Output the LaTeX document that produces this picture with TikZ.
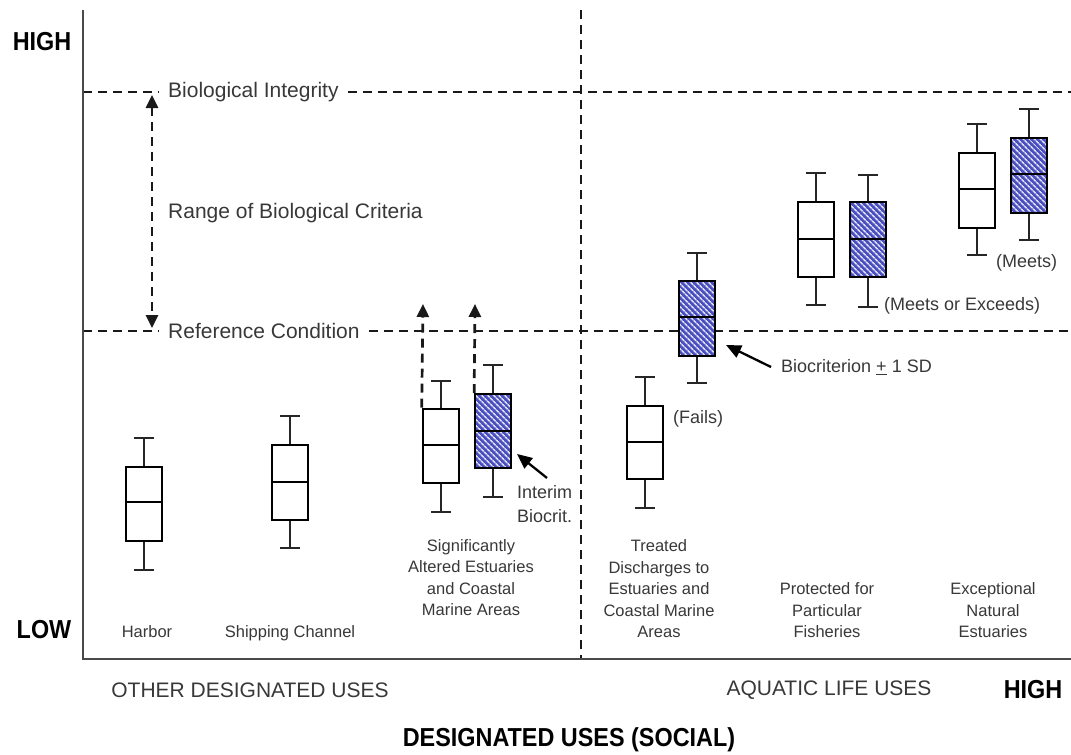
\documentclass[tikz,border=0pt]{standalone}
\usepackage{fontspec}
\setmainfont{Liberation Sans}
\newfontfamily\headfont{Liberation Sans Bold}[FakeStretch=0.9]
\definecolor{criteriablue}{HTML}{4A4FC0}
\definecolor{labelgray}{HTML}{383838}
\definecolor{axisgray}{HTML}{4A4A4A}
\usetikzlibrary{arrows.meta,patterns.meta}
\tikzset{
    boxline/.style={
        draw=black,
        line width=2.6pt
    },
    whisker/.style={
        draw=black!85,
        line width=2.6pt
    },
    observedbox/.style={
        boxline,
        fill=white,
        minimum width=36pt,
        inner sep=0pt
    },
    criterionbox/.style={
        boxline,
        preaction={fill=criteriablue},
        pattern={Lines[angle=-45,distance=4pt,line width=1.7pt]},
        pattern color=white!80!criteriablue,
        minimum width=36pt,
        inner sep=0pt
    },
    guideline/.style={
        draw=black!90,
        line width=2.7pt,
        dash pattern=on 9pt off 6pt
    },
    guidearrow/.style={
        guideline,
        -{Triangle[length=13pt,width=12pt]}
    },
    guidedouble/.style={
        guideline,
        {Triangle[length=13pt,width=12pt]}-{Triangle[length=13pt,width=12pt]}
    },
    pointer/.style={
        -{Triangle[length=15pt,width=13pt]},
        draw=black,
        line width=2.3pt
    },
    axisline/.style={
        draw=axisgray,
        line width=2.8pt
    },
    levellabel/.style={
        font=\fontsize{21}{25}\selectfont,
        text=labelgray,
        inner xsep=9pt,
        inner ysep=2pt
    },
    notelabel/.style={
        font=\fontsize{18}{24}\selectfont,
        text=labelgray,
        anchor=west,
        inner sep=1pt,
        align=left
    },
    uselabel/.style={
        font=\fontsize{16.5}{21.5}\selectfont,
        text=labelgray,
        anchor=south,
        inner sep=0pt,
        text depth=0pt,
        align=center
    },
    grouplabel/.style={
        font=\fontsize{21}{25}\selectfont,
        text=labelgray,
        inner sep=0pt
    },
    headlabel/.style={
        font=\headfont\fontsize{26}{30}\selectfont,
        text=black,
        inner sep=0pt
    }
}
% #1 name, #2 style, #3 x, #4 whisker top, #5 box top, #6 median, #7 box bottom, #8 whisker bottom
\newcommand{\bioboxplot}[8]{%
    \node[#2,minimum height={(#7-#5)*1pt}] (#1) at (#3,{(#5+#7)/2}) {};
    \draw[whisker] (#1.north) -- (#3,#4) (#3-10,#4) -- (#3+10,#4);
    \draw[whisker] (#1.south) -- (#3,#8) (#3-10,#8) -- (#3+10,#8);
    \draw[boxline] (#3-18,#6) -- (#3+18,#6);
}

\begin{document}
\begin{tikzpicture}[x=1pt,y=-1pt]
    \useasboundingbox (0,0) rectangle (1071,755);

    % axes and divider
    \coordinate (axistop) at (83,10);
    \coordinate (origin) at (83,659);
    \coordinate (axisend) at (1071,659);
    \coordinate (dividertop) at (581,10);
    \coordinate (dividerbase) at (581,659);
    \draw[guideline] (dividertop) -- (dividerbase);

    % biological levels
    \node[levellabel,anchor=west] (integrity) at (159,92) {Biological Integrity};
    \node[levellabel,anchor=west] (reference) at (159,331) {Reference Condition};
    \node[levellabel,anchor=west,inner xsep=0pt] (range) at (168,213) {Range of Biological Criteria};
    \draw[guideline] (83,92) -- (integrity.west);
    \draw[guideline] (integrity.east) -- (1071,92);
    \draw[guideline] (83,331) -- (reference.west);
    \draw[guideline] (reference.east) -- (1071,331);
    \draw[guidedouble] (152,95) -- (152,328);

    \draw[axisline] (axistop) -- (origin) -- (axisend);

    % box plots
    \bioboxplot{harbor}{observedbox}{144}{438}{467}{502}{541}{570}
    \bioboxplot{shipping}{observedbox}{290}{416}{445}{482}{520}{548}
    \bioboxplot{alteredobs}{observedbox}{441}{381}{409}{445}{483}{512}
    \bioboxplot{alteredcrit}{criterionbox}{493}{365}{394}{431}{468}{497}
    \bioboxplot{treatedobs}{observedbox}{645}{377}{406}{442}{479}{508}
    \bioboxplot{treatedcrit}{criterionbox}{697}{253}{281}{317}{356}{383}
    \bioboxplot{fisheryobs}{observedbox}{816}{173}{202}{239}{277}{305}
    \bioboxplot{fisherycrit}{criterionbox}{868}{175}{202}{239}{277}{307}
    \bioboxplot{naturalobs}{observedbox}{977}{124}{153}{189}{228}{255}
    \bioboxplot{naturalcrit}{criterionbox}{1029}{109}{138}{174}{213}{240}

    % interim raise arrows
    \coordinate (raiseobs) at (423,304);
    \coordinate (raisecrit) at (475,304);
    \draw[guidearrow] (alteredobs.north west) -- (raiseobs);
    \draw[guidearrow] (alteredcrit.north west) -- (raisecrit);

    % annotations
    \node[notelabel] (interim) at (516,504) {Interim\\Biocrit.};
    \coordinate (interimtail) at (547,478);
    \coordinate (interimtip) at (517,454);
    \draw[pointer] (interimtail) -- (interimtip);
    \node[notelabel] (biocrit) at (780,367) {Biocriterion \underline{+} 1 SD};
    \coordinate (biocrittail) at (771,367);
    \coordinate (biocrittip) at (726,345);
    \draw[pointer] (biocrittail) -- (biocrittip);
    \node[notelabel] (fails) at (672,419) {(Fails)};
    \node[notelabel] (exceeds) at (883,306) {(Meets or Exceeds)};
    \node[notelabel] (meets) at (995,263) {(Meets)};

    % designated uses
    \node[uselabel] (harborlabel) at (147,638) {Harbor};
    \node[uselabel] (shippinglabel) at (290,638) {Shipping Channel};
    \node[uselabel] (alteredlabel) at (471,616) {Significantly\\Altered Estuaries\\and Coastal\\Marine Areas};
    \node[uselabel] (treatedlabel) at (659,638) {Treated\\Discharges to\\Estuaries and\\Coastal Marine\\Areas};
    \node[uselabel] (fisherylabel) at (827,638) {Protected for\\Particular\\Fisheries};
    \node[uselabel] (naturallabel) at (993,638) {Exceptional\\Natural\\Estuaries};

    \node[grouplabel] (otheruses) at (250,690) {OTHER DESIGNATED USES};
    \node[grouplabel] (aquaticuses) at (829,690) {AQUATIC LIFE USES};
    \node[headlabel] (highx) at (1033,690) {HIGH};
    \node[headlabel] (highy) at (42,42) {HIGH};
    \node[headlabel] (lowy) at (44,630) {LOW};
    \node[headlabel] (socialaxis) at (569,740) {DESIGNATED USES (SOCIAL)};
\end{tikzpicture}
\end{document}
